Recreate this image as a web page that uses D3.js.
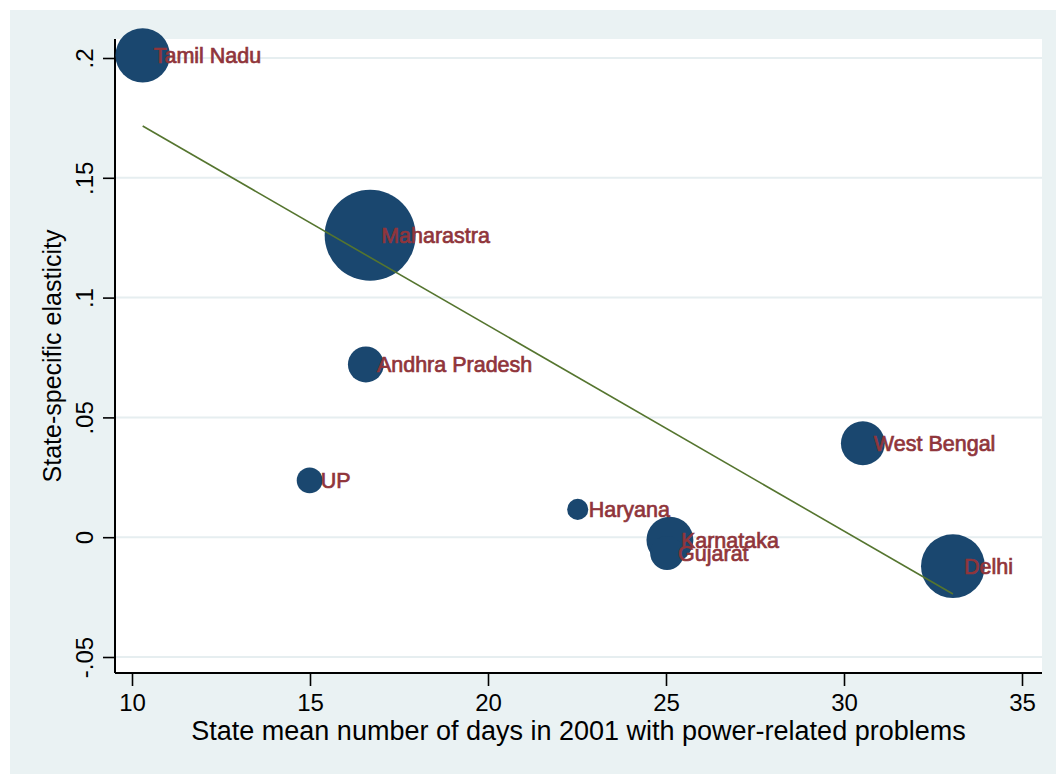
<!DOCTYPE html>
<html>
<head>
<meta charset="utf-8">
<script src="https://cdn.jsdelivr.net/npm/d3@7"></script>
<style>
  html, body { margin: 0; padding: 0; background: #ffffff; }
  svg { display: block; }
  text { font-family: "Liberation Sans", Arial, sans-serif; }
</style>
</head>
<body>
<script>
// ---- data ----
const states  = ["Tamil Nadu", "Maharastra", "Andhra Pradesh", "UP", "Haryana", "Karnataka", "Gujarat", "West Bengal", "Delhi"];
const daysX   = [10.30, 16.69, 16.57, 14.99, 22.52, 25.11, 25.03, 30.53, 33.06];
const elastY  = [0.2011, 0.126, 0.0721, 0.0237, 0.0116, -0.0012, -0.0066, 0.0392, -0.0121];
const weights = [186, 520, 81, 42, 28, 138, 72, 121, 256];
const fitX    = [10.30, 33.06];
const fitY    = [0.1716, -0.0237];
const xTicks  = [10, 15, 20, 25, 30, 35];
const yTicks  = [-0.05, 0, 0.05, 0.1, 0.15, 0.2];
const yTickLabels = ["-.05", "0", ".05", ".1", ".15", ".2"];
const xTitle  = "State mean number of days in 2001 with power-related problems";
const yTitle  = "State-specific elasticity";

const W = 1056, H = 774;
const plot = { left: 115, right: 1042, top: 39, bottom: 673 };

const svg = d3.select("body").append("svg").attr("width", W).attr("height", H);

// outer graph region
svg.append("rect").attr("x", 10).attr("y", 10).attr("width", W - 10).attr("height", H - 10)
  .attr("fill", "#EAF2F3");
// plot region
svg.append("rect").attr("x", plot.left).attr("y", plot.top)
  .attr("width", plot.right - plot.left).attr("height", plot.bottom - plot.top)
  .attr("fill", "#ffffff");

const x = d3.scaleLinear().domain([10, 35]).range([132, 1022]);
const y = d3.scaleLinear().domain([-0.05, 0.2]).range([657, 58]);
const r = d3.scaleSqrt().domain([0, 520]).range([0, 45.5]);

// gridlines
svg.append("g").selectAll("line").data(yTicks).join("line")
  .attr("x1", plot.left).attr("x2", plot.right)
  .attr("y1", d => y(d)).attr("y2", d => y(d))
  .attr("stroke", "#E6EEF0").attr("stroke-width", 2);

// axes
const xAxis = d3.axisBottom(x).tickValues(xTicks).tickFormat(d3.format("d")).tickSize(13).tickSizeOuter(0).tickPadding(8);
const gx = svg.append("g").attr("transform", `translate(0,${plot.bottom})`).call(xAxis);
gx.select(".domain").attr("d", `M${plot.left},0H${plot.right}`).attr("stroke", "#000").attr("stroke-width", 2);
gx.selectAll(".tick line").attr("stroke", "#000").attr("stroke-width", 1.6);
gx.selectAll(".tick text").attr("font-size", 24).attr("fill", "#000")
  .style("font-family", '"Liberation Sans", Arial, sans-serif');

const yAxis = d3.axisLeft(y).tickValues(yTicks).tickFormat((d, i) => yTickLabels[i]).tickSize(12).tickSizeOuter(0);
const gy = svg.append("g").attr("transform", `translate(${plot.left},0)`).call(yAxis);
gy.select(".domain").attr("d", `M0,${plot.top}V${plot.bottom}`).attr("stroke", "#000").attr("stroke-width", 2);
gy.selectAll(".tick line").attr("stroke", "#000").attr("stroke-width", 1.6);
gy.selectAll(".tick text")
  .attr("x", null).attr("dy", null)
  .attr("text-anchor", "middle")
  .attr("transform", "translate(-22,0) rotate(-90)")
  .attr("font-size", 24).attr("fill", "#000")
  .style("font-family", '"Liberation Sans", Arial, sans-serif');

// bubbles
const pts = states.map((s, i) => ({ s, x: daysX[i], y: elastY[i], w: weights[i] }));
svg.append("g").selectAll("circle").data(pts).join("circle")
  .attr("cx", d => x(d.x)).attr("cy", d => y(d.y)).attr("r", d => r(d.w))
  .attr("fill", "#1A476F");

// fit line
svg.append("path")
  .attr("d", d3.line().x(d => x(d[0])).y(d => y(d[1]))(fitX.map((v, i) => [v, fitY[i]])))
  .attr("fill", "none").attr("stroke", "#55752F").attr("stroke-width", 1.6);

// labels
svg.append("g").selectAll("text").data(pts).join("text")
  .attr("x", d => x(d.x) + 11).attr("y", d => y(d.y)).attr("dy", "0.35em")
  .attr("font-size", 21.5).attr("fill", "#90353B")
  .attr("stroke", "#90353B").attr("stroke-width", 0.7)
  .text(d => d.s);

// axis titles
svg.append("text").attr("x", (plot.left + plot.right) / 2).attr("y", 740)
  .attr("text-anchor", "middle").attr("font-size", 27).attr("fill", "#000").text(xTitle);
svg.append("text").attr("transform", `translate(61,${(plot.top + plot.bottom) / 2}) rotate(-90)`)
  .attr("text-anchor", "middle").attr("font-size", 25).attr("fill", "#000").text(yTitle);
</script>
</body>
</html>
